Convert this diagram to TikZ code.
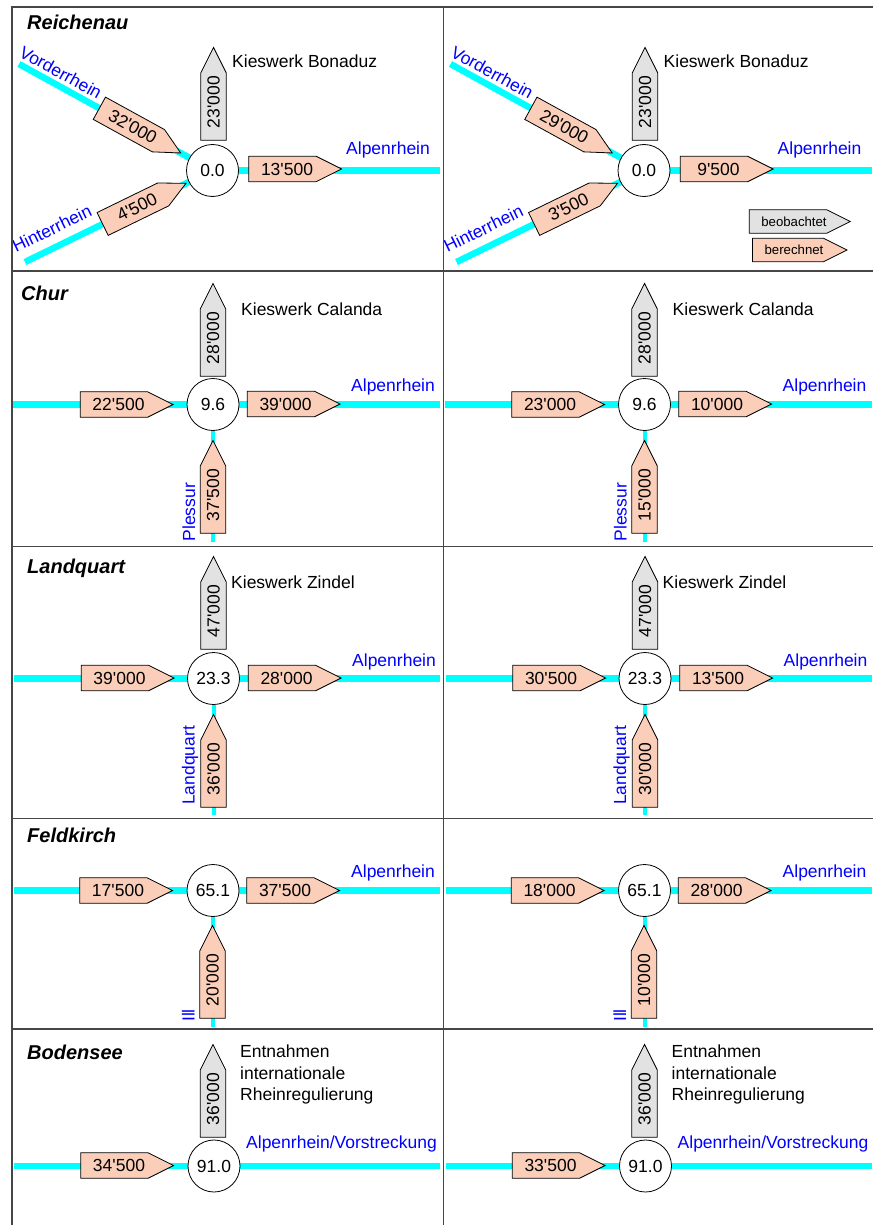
\documentclass[tikz,border=0pt]{standalone}
\usepackage{fontspec}
\setmainfont{Liberation Sans}
\usetikzlibrary{calc,backgrounds}
\pgfdeclarelayer{rivers}
\pgfsetlayers{rivers,background,main}

\definecolor{rivercol}{RGB}{0,255,255}
\definecolor{peach}{RGB}{250,206,184}
\definecolor{obsgray}{RGB}{226,226,226}
\definecolor{lblblue}{RGB}{0,0,255}
\definecolor{framecol}{RGB}{70,70,70}

\newcommand\tq{\textquotesingle}

\tikzset{
 mainriver/.style={draw=rivercol, line width=6.5pt},
 tribriver/.style={draw=rivercol, line width=4pt},
 flowbody/.style={rectangle, inner sep=0pt, minimum width=67pt, minimum height=25pt, font=\fontsize{17.5}{21}\selectfont},
 legbody/.style={rectangle, inner sep=0pt, minimum width=69pt, minimum height=23pt, font=\fontsize{13.2}{16}\selectfont},
 flowline/.style={draw=black, line width=0.8pt, line join=miter},
 knot/.style={circle, draw=black, line width=0.8pt, fill=white, minimum size=52pt, inner sep=0pt, font=\fontsize{17.5}{21}\selectfont},
 lab/.style={anchor=base west, inner sep=0pt, font=\fontsize{17.5}{21}\selectfont},
 rivlab/.style={lab, text=lblblue},
 titlelab/.style={anchor=base west, inner sep=0pt, font=\fontsize{20}{24}\selectfont\bfseries\itshape},
 framel/.style={draw=framecol, line width=1.5pt},
}

% #1 style, #2 name, #3 position, #4 angle, #5 fill, #6 text
\newcommand\flowarrow[6]{%
  \node[#1, rotate=#4] (#2) at #3 {\hspace*{9pt}#6};
  \begin{pgfonlayer}{background}
    \draw[flowline, fill=#5] (#2.south west) -- (#2.south east)
      -- ($(#2.east)!2!90:(#2.south east)$) -- (#2.north east)
      -- (#2.north west) -- cycle;
  \end{pgfonlayer}%
}

\newcommand\reichenau[5]{%
 \begin{scope}[xshift=#2]
  \node[knot] (#1c) at (212.5,170.5) {0.0};
  \coordinate (#1v) at (19,64);
  \coordinate (#1h) at (25,262);
  \coordinate (#1o) at (440,170.5);
  \begin{pgfonlayer}{rivers}
   \draw[mainriver] (#1v) -- (#1c.center);
   \draw[mainriver] (#1h) -- (#1c.center);
   \draw[mainriver] (#1c.center) -- (#1o);
  \end{pgfonlayer}
  \flowarrow{flowbody}{#1a1}{(128.9,124.5)}{-28.8}{peach}{#3}
  \flowarrow{flowbody}{#1a2}{(132.9,209.2)}{26}{peach}{#4}
  \flowarrow{flowbody}{#1a3}{(282.5,169)}{0}{peach}{#5}
  \flowarrow{flowbody}{#1g}{(213.5,106.5)}{90}{obsgray}{23\tq000}
  \node[lab] (#1kw) at (232,68) {Kieswerk Bonaduz};
  \node[rivlab] (#1al) at (346,155) {Alpenrhein};
  \node[rivlab, rotate=-28.8] (#1vl) at (18,56) {Vorderrhein};
  \node[rivlab, rotate=26] (#1hl) at (16,253) {Hinterrhein};
 \end{scope}}

\newcommand\chur[5]{%
 \begin{scope}[xshift=#2]
  \node[knot] (#1c) at (213,404.5) {9.6};
  \coordinate (#1l) at (13,404.5);
  \coordinate (#1r) at (440,404.5);
  \coordinate (#1b) at (213,542);
  \begin{pgfonlayer}{rivers}
   \draw[mainriver] (#1l) -- (#1c.center);
   \draw[mainriver] (#1c.center) -- (#1r);
   \draw[tribriver] (#1c.center) -- (#1b);
  \end{pgfonlayer}
  \flowarrow{flowbody}{#1in}{(114,404.5)}{0}{peach}{#3}
  \flowarrow{flowbody}{#1out}{(281,404)}{0}{peach}{#4}
  \flowarrow{flowbody}{#1g}{(213,342.5)}{90}{obsgray}{28\tq000}
  \flowarrow{flowbody}{#1t}{(213,499.5)}{90}{peach}{#5}
  \node[lab] (#1kw) at (241,315.7) {Kieswerk Calanda};
  \node[rivlab] (#1al) at (351,391.7) {Alpenrhein};
  \node[rivlab, rotate=90] (#1tl) at (195,541.5) {Plessur};
 \end{scope}}

\newcommand\landquart[5]{%
 \begin{scope}[xshift=#2]
  \node[knot] (#1c) at (213.5,678.5) {23.3};
  \coordinate (#1l) at (14,678.5);
  \coordinate (#1r) at (440,678.5);
  \coordinate (#1b) at (213.5,815);
  \begin{pgfonlayer}{rivers}
   \draw[mainriver] (#1l) -- (#1c.center);
   \draw[mainriver] (#1c.center) -- (#1r);
   \draw[tribriver] (#1c.center) -- (#1b);
  \end{pgfonlayer}
  \flowarrow{flowbody}{#1in}{(115,678)}{0}{peach}{#3}
  \flowarrow{flowbody}{#1out}{(282,678)}{0}{peach}{#4}
  \flowarrow{flowbody}{#1g}{(213.5,615.5)}{90}{obsgray}{47\tq000}
  \flowarrow{flowbody}{#1t}{(213.5,773.5)}{90}{peach}{#5}
  \node[lab] (#1kw) at (231,588.3) {Kieswerk Zindel};
  \node[rivlab] (#1al) at (352,666) {Alpenrhein};
  \node[rivlab, rotate=90] (#1tl) at (194.5,805) {Landquart};
 \end{scope}}

\newcommand\feldkirch[5]{%
 \begin{scope}[xshift=#2]
  \node[knot] (#1c) at (213,890.5) {65.1};
  \coordinate (#1l) at (14,890.5);
  \coordinate (#1r) at (440,890.5);
  \coordinate (#1b) at (213,1027);
  \begin{pgfonlayer}{rivers}
   \draw[mainriver] (#1l) -- (#1c.center);
   \draw[mainriver] (#1c.center) -- (#1r);
   \draw[tribriver] (#1c.center) -- (#1b);
  \end{pgfonlayer}
  \flowarrow{flowbody}{#1in}{(113.5,890.5)}{0}{peach}{#3}
  \flowarrow{flowbody}{#1out}{(280.5,890.5)}{0}{peach}{#4}
  \flowarrow{flowbody}{#1t}{(212.5,984.5)}{90}{peach}{#5}
  \node[rivlab] (#1al) at (351,877.7) {Alpenrhein};
  \node[rivlab, rotate=90] (#1tl) at (194.5,1022) {Ill};
 \end{scope}}

\newcommand\bodensee[3]{%
 \begin{scope}[xshift=#2]
  \node[knot] (#1c) at (214,1166) {91.0};
  \coordinate (#1l) at (14,1166);
  \coordinate (#1r) at (440,1166);
  \begin{pgfonlayer}{rivers}
   \draw[mainriver] (#1l) -- (#1c.center);
   \draw[mainriver] (#1c.center) -- (#1r);
  \end{pgfonlayer}
  \flowarrow{flowbody}{#1in}{(114.5,1165.5)}{0}{peach}{#3}
  \flowarrow{flowbody}{#1g}{(213,1103.5)}{90}{obsgray}{36\tq000}
  \node[lab] (#1e1) at (240,1057.7) {Entnahmen};
  \node[lab] (#1e2) at (240,1079.3) {internationale};
  \node[lab] (#1e3) at (240,1100.9) {Rheinregulierung};
  \node[rivlab] (#1al) at (246,1148.3) {Alpenrhein/Vorstreckung};
 \end{scope}}

\begin{document}
\begin{tikzpicture}[x=1pt,y=-1pt]
\useasboundingbox (0,0) rectangle (873,1225);
\begin{pgfonlayer}{rivers}
 \fill[white] (0,0) rectangle (873,1225);
\end{pgfonlayer}

% titles
\node[titlelab] (t1) at (27,29.3) {Reichenau};
\node[titlelab] (t2) at (21,300) {Chur};
\node[titlelab] (t3) at (27,573.3) {Landquart};
\node[titlelab] (t4) at (27,842.7) {Feldkirch};
\node[titlelab] (t5) at (27,1059.3) {Bodensee};

\reichenau{a}{0pt}{32\tq000}{4\tq500}{13\tq500}
\reichenau{b}{431.5pt}{29\tq000}{3\tq500}{9\tq500}

% legend
\flowarrow{legbody}{lg1}{(788,221.5)}{0}{obsgray}{\hspace*{3pt}beobachtet}
\flowarrow{legbody}{lg2}{(788,250)}{0}{peach}{\hspace*{3pt}berechnet}

\chur{c}{0pt}{22\tq500}{39\tq000}{37\tq500}
\chur{d}{431.5pt}{23\tq000}{10\tq000}{15\tq000}

\landquart{e}{0pt}{39\tq000}{28\tq000}{36\tq000}
\landquart{f}{431.5pt}{30\tq500}{13\tq500}{30\tq000}

\feldkirch{g}{0pt}{17\tq500}{37\tq500}{20\tq000}
\feldkirch{h}{431.5pt}{18\tq000}{28\tq000}{10\tq000}

\bodensee{i}{0pt}{34\tq500}
\bodensee{j}{431.5pt}{33\tq500}

% frame
\draw[framel] (873,7) -- (12,7) -- (12,1225);
\draw[framel] (443.5,7) -- (443.5,1225);
\foreach \yy in {271,546.5,818.5,1029} \draw[framel] (12,\yy) -- (873,\yy);
\end{tikzpicture}
\end{document}
